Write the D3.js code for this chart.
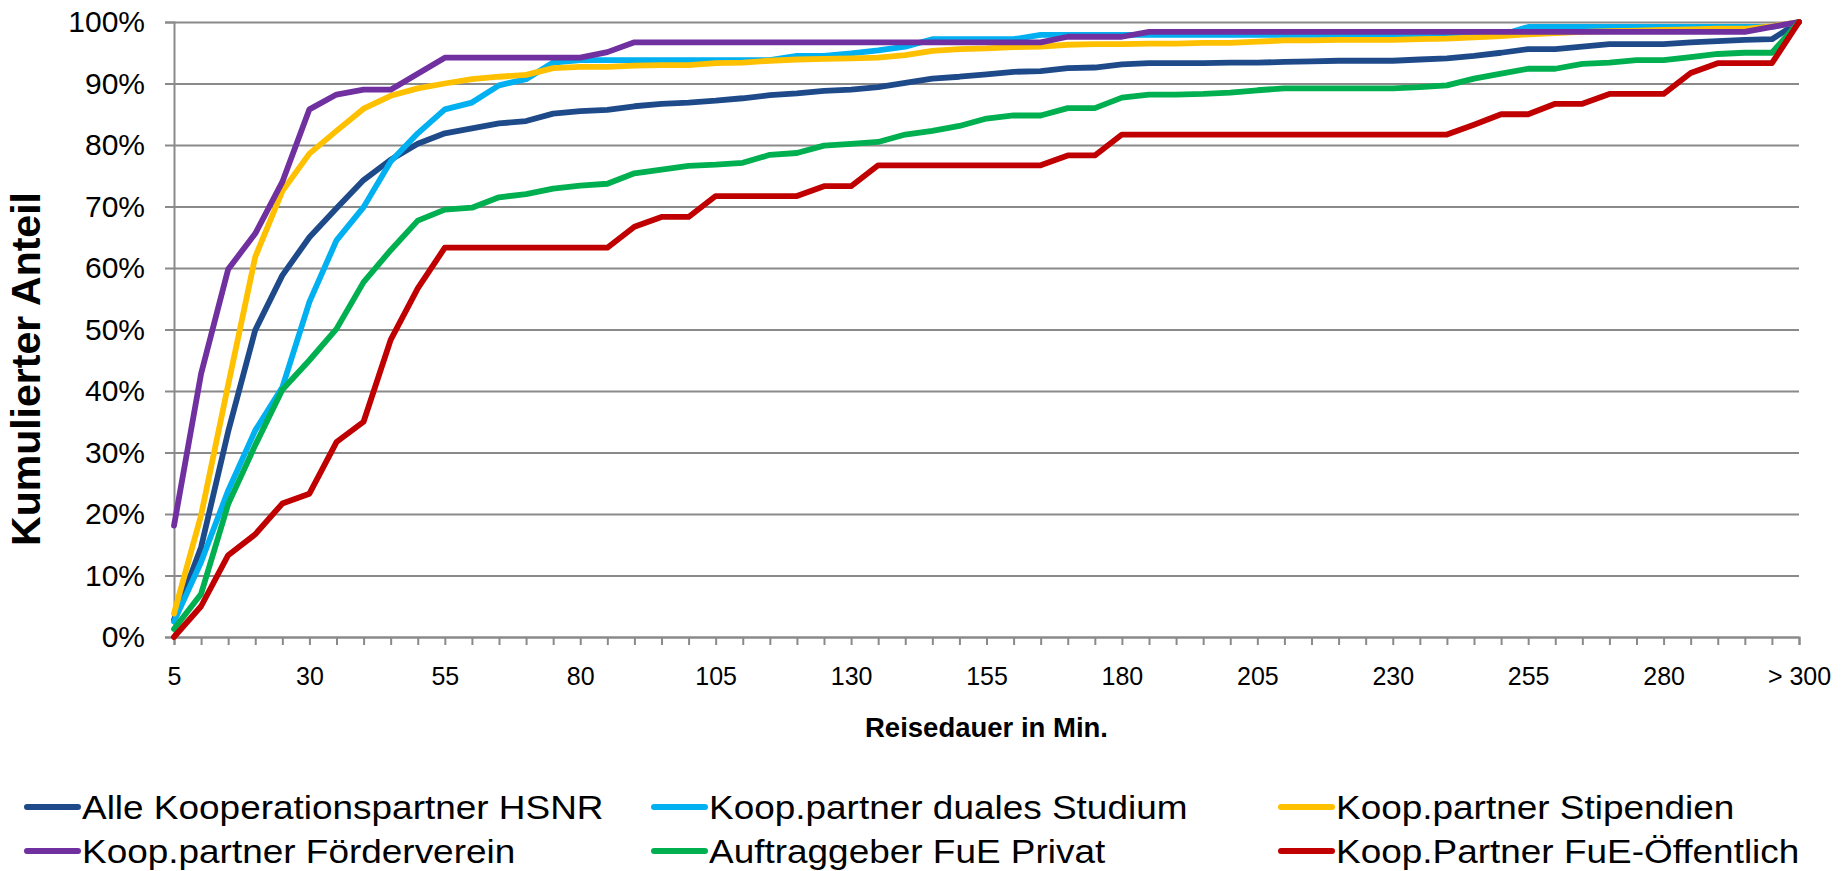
<!DOCTYPE html>
<html>
<head>
<meta charset="utf-8">
<script src="https://cdn.jsdelivr.net/npm/d3@7"></script>
<style>
  body { margin: 0; background: #fff; }
  svg { display: block; font-family: "Liberation Sans", Arial, sans-serif; }
</style>
</head>
<body>
<script>
// categories: travel time in minutes, 5 to 300 then "> 300"
var categories = [];
for (var m = 5; m <= 300; m += 5) categories.push(String(m));
categories.push("> 300");

var xTickLabels = ["5", "30", "55", "80", "105", "130", "155", "180", "205", "230", "255", "280", "> 300"];
var yTicks = [0, 10, 20, 30, 40, 50, 60, 70, 80, 90, 100];

var seriesNames = ["Alle Kooperationspartner HSNR", "Koop.partner duales Studium", "Koop.partner Stipendien",
                   "Koop.partner Förderverein", "Auftraggeber FuE Privat", "Koop.Partner FuE-Öffentlich"];
var seriesColors = ["#1F4A8A", "#00B0F0", "#FFC000", "#7030A0", "#00B050", "#C00000"];

// cumulative share in percent, one value per category
var alle = [2.8, 14.6, 33.4, 49.9, 58.8, 65.0, 69.7, 74.3, 77.6, 80.2,
            81.9, 82.7, 83.5, 83.9, 85.1, 85.5, 85.7, 86.3, 86.7, 86.9,
            87.2, 87.6, 88.1, 88.4, 88.8, 89.0, 89.4, 90.1, 90.8, 91.1,
            91.5, 91.9, 92.0, 92.5, 92.6, 93.1, 93.3, 93.3, 93.3, 93.4,
            93.4, 93.5, 93.6, 93.7, 93.7, 93.7, 93.9, 94.1, 94.5, 95.0,
            95.6, 95.6, 96.0, 96.4, 96.4, 96.4, 96.7, 96.9, 97.1, 97.2, 100];
var dual = [2.5, 12.2, 23.8, 33.6, 40.6, 54.5, 64.5, 69.9, 77.3, 81.9,
            85.8, 86.9, 89.7, 90.7, 93.4, 93.8, 93.8, 93.8, 93.8, 93.8,
            93.8, 93.8, 93.8, 94.5, 94.5, 94.9, 95.4, 96.0, 97.2, 97.2,
            97.2, 97.2, 97.9, 97.9, 97.9, 97.9, 97.9, 97.9, 97.9, 97.9,
            97.9, 97.9, 97.9, 97.9, 97.9, 97.9, 97.9, 97.9, 97.9, 97.9,
            99.2, 99.2, 99.2, 99.2, 99.2, 99.2, 99.2, 99.2, 99.2, 99.2, 100];
var stipendien = [3.8, 19.8, 41.0, 61.8, 72.5, 78.6, 82.3, 85.9, 88.0, 89.2,
                  90.0, 90.7, 91.1, 91.4, 92.5, 92.7, 92.7, 92.9, 93.0, 93.0,
                  93.3, 93.4, 93.7, 93.9, 94.0, 94.1, 94.2, 94.6, 95.3, 95.6,
                  95.7, 95.9, 96.0, 96.3, 96.4, 96.4, 96.5, 96.5, 96.6, 96.6,
                  96.8, 97.0, 97.0, 97.1, 97.1, 97.1, 97.2, 97.3, 97.5, 97.7,
                  98.0, 98.2, 98.4, 98.5, 98.6, 98.7, 98.8, 98.9, 98.9, 99.3, 100];
var foerderverein = [18.1, 42.8, 59.8, 65.6, 74.0, 85.8, 88.2, 89.0, 89.0, 91.6,
                     94.2, 94.2, 94.2, 94.2, 94.2, 94.2, 95.1, 96.7, 96.7, 96.7,
                     96.7, 96.7, 96.7, 96.7, 96.7, 96.7, 96.7, 96.7, 96.7, 96.7,
                     96.7, 96.7, 96.7, 97.6, 97.6, 97.6, 98.4, 98.4, 98.4, 98.4,
                     98.4, 98.4, 98.4, 98.4, 98.4, 98.4, 98.4, 98.4, 98.4, 98.4,
                     98.4, 98.4, 98.4, 98.4, 98.4, 98.4, 98.4, 98.4, 98.4, 99.2, 100];
var privat = [1.3, 7.0, 21.6, 31.2, 40.2, 45.0, 50.1, 57.7, 62.9, 67.7,
              69.5, 69.8, 71.5, 72.0, 72.9, 73.4, 73.7, 75.4, 76.0, 76.6,
              76.8, 77.1, 78.4, 78.7, 79.9, 80.2, 80.5, 81.7, 82.3, 83.1,
              84.3, 84.8, 84.8, 86.0, 86.0, 87.7, 88.2, 88.2, 88.3, 88.5,
              88.9, 89.2, 89.2, 89.2, 89.2, 89.2, 89.4, 89.7, 90.8, 91.6,
              92.4, 92.4, 93.2, 93.4, 93.8, 93.8, 94.3, 94.8, 95.0, 95.0, 100];
var oeffentlich = [0, 5.0, 13.3, 16.7, 21.7, 23.3, 31.7, 35.0, 48.3, 56.7,
                   63.3, 63.3, 63.3, 63.3, 63.3, 63.3, 63.3, 66.7, 68.3, 68.3,
                   71.7, 71.7, 71.7, 71.7, 73.3, 73.3, 76.7, 76.7, 76.7, 76.7,
                   76.7, 76.7, 76.7, 78.3, 78.3, 81.7, 81.7, 81.7, 81.7, 81.7,
                   81.7, 81.7, 81.7, 81.7, 81.7, 81.7, 81.7, 81.7, 83.3, 85.0,
                   85.0, 86.7, 86.7, 88.3, 88.3, 88.3, 91.7, 93.3, 93.3, 93.3, 100];

var seriesValues = [alle, dual, stipendien, foerderverein, privat, oeffentlich];

var width = 1847, height = 871;
var plotLeft = 174, plotRight = 1799, plotTop = 22, plotBottom = 637;

var svg = d3.select("body")
    .append("svg")
    .attr("width", width)
    .attr("height", height);

// scales
var xScale = d3.scalePoint()
    .domain(categories)
    .range([plotLeft, plotRight]);

var yScale = d3.scaleLinear()
    .domain([0, 100])
    .range([plotBottom, plotTop]);

// horizontal gridlines
svg.append("g")
    .attr("class", "grid")
    .attr("transform", "translate(" + plotLeft + ",0)")
    .call(d3.axisLeft(yScale).tickValues(yTicks).tickSize(-(plotRight - plotLeft)).tickFormat(""))
    .call(function(g) {
        g.select(".domain").remove();
        g.selectAll("line").attr("stroke", "#8A8A8A").attr("stroke-width", 2);
    });

// y axis
svg.append("g")
    .attr("transform", "translate(" + plotLeft + ",0)")
    .call(d3.axisLeft(yScale).tickValues(yTicks).tickSize(9).tickPadding(20)
        .tickFormat(function(d) { return d + "%"; }))
    .call(function(g) {
        g.select(".domain").attr("stroke", "#8A8A8A").attr("stroke-width", 2);
        g.selectAll("line").attr("stroke", "#8A8A8A").attr("stroke-width", 2);
        g.selectAll("text").attr("font-size", 30).attr("fill", "#000")
            .attr("font-family", "'Liberation Sans', Arial, sans-serif");
    });

// x axis, a tick for every category, a label for every fifth
svg.append("g")
    .attr("transform", "translate(0," + plotBottom + ")")
    .call(d3.axisBottom(xScale).tickSize(8).tickPadding(22)
        .tickFormat(function(d) { return xTickLabels.indexOf(d) >= 0 ? d : ""; }))
    .call(function(g) {
        g.select(".domain").attr("stroke", "#8A8A8A").attr("stroke-width", 2);
        g.selectAll("line").attr("stroke", "#8A8A8A").attr("stroke-width", 2);
        g.selectAll("text").attr("font-size", 25).attr("fill", "#000")
            .attr("font-family", "'Liberation Sans', Arial, sans-serif");
    });

// lines
var line = d3.line()
    .x(function(d, i) { return xScale(categories[i]); })
    .y(function(d) { return yScale(d); });

svg.selectAll(".series")
    .data(seriesValues)
    .enter()
    .append("path")
    .attr("class", "series")
    .attr("d", line)
    .attr("fill", "none")
    .attr("stroke", function(d, i) { return seriesColors[i]; })
    .attr("stroke-width", 5.8)
    .attr("stroke-linejoin", "round")
    .attr("stroke-linecap", "round");

// axis titles
svg.append("text")
    .attr("transform", "translate(40," + 369 + ") rotate(-90)")
    .attr("text-anchor", "middle")
    .attr("font-size", 41)
    .attr("font-weight", "bold")
    .text("Kumulierter Anteil");

svg.append("text")
    .attr("x", (plotLeft + plotRight) / 2)
    .attr("y", 737)
    .attr("text-anchor", "middle")
    .attr("font-size", 27.5)
    .attr("font-weight", "bold")
    .text("Reisedauer in Min.");

// legend, three columns and two rows
var legendX = [24, 651, 1278];
var legendY = [807, 851];

var legend = svg.selectAll(".legend")
    .data(seriesNames)
    .enter()
    .append("g")
    .attr("class", "legend")
    .attr("transform", function(d, i) {
        return "translate(" + legendX[i % 3] + "," + legendY[Math.floor(i / 3)] + ")"; });

legend.append("line")
    .attr("x1", 3)
    .attr("x2", 54)
    .attr("stroke", function(d, i) { return seriesColors[i]; })
    .attr("stroke-width", 6)
    .attr("stroke-linecap", "round");

// legend text is a little wider than it is tall in the original
legend.append("text")
    .attr("transform", "translate(58,0) scale(1.12,1)")
    .attr("dy", "0.35em")
    .attr("font-size", 33)
    .text(function(d) { return d; });
</script>
</body>
</html>
